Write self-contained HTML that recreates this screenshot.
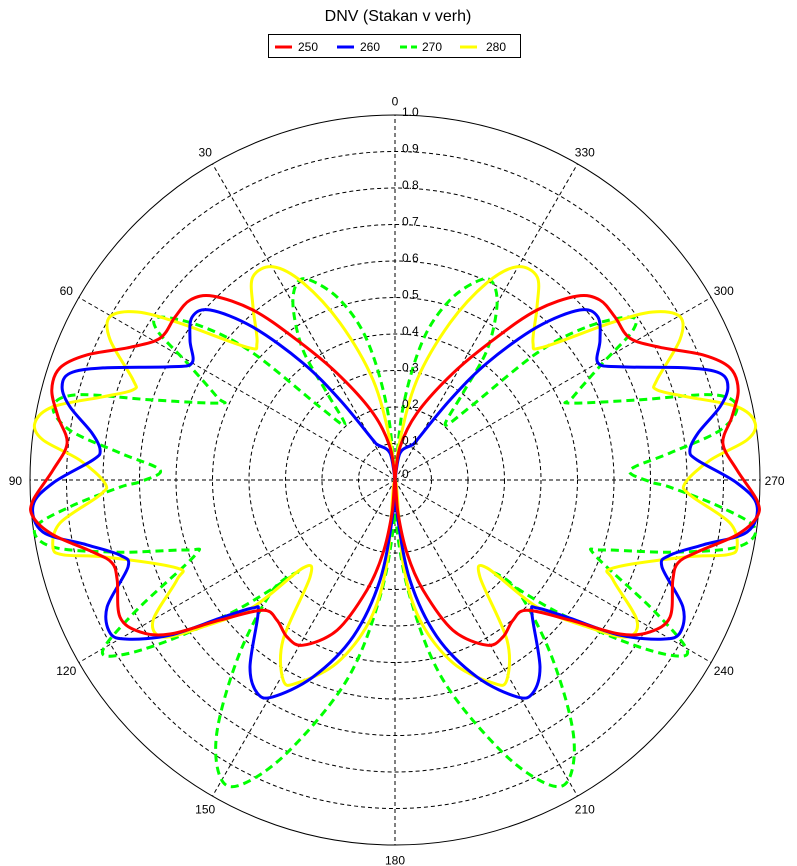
<!DOCTYPE html>
<html><head><meta charset="utf-8"><style>
html,body{margin:0;padding:0;background:#fff;}
svg{display:block;font-family:"Liberation Sans",Arial,sans-serif;}
</style></head><body>
<svg id="chart" width="797" height="866" viewBox="0 0 797 866" xmlns="http://www.w3.org/2000/svg">
<text x="398" y="21" text-anchor="middle" font-size="16">DNV (Stakan v verh)</text>
<g>
<rect x="268.5" y="34.5" width="252" height="23" fill="#fff" stroke="#000" stroke-width="1"/>
<g><line x1="275" y1="47" x2="292" y2="47" stroke="#ff0000" stroke-width="3"/><text x="298" y="51" font-size="12">250</text></g>
<g><line x1="337" y1="47" x2="354" y2="47" stroke="#0000ff" stroke-width="3"/><text x="360" y="51" font-size="12">260</text></g>
<g><line x1="400" y1="47" x2="417" y2="47" stroke="#00ff00" stroke-width="3" stroke-dasharray="7,4"/><text x="422" y="51" font-size="12">270</text></g>
<g><line x1="460" y1="47" x2="477" y2="47" stroke="#ffff00" stroke-width="3"/><text x="486" y="51" font-size="12">280</text></g>
</g>
<g id="grid"></g>
<g id="series"></g>
<g id="labels"></g>
</svg>
<script>
// Data: left-half traces (angle deg, counter-clockwise from top; radius), mirrored to right half
const radialTicks = [0, 0.1, 0.2, 0.3, 0.4, 0.5, 0.6, 0.7, 0.8, 0.9, 1.0];
const radialTickLabels = ["0","0.1","0.2","0.3","0.4","0.5","0.6","0.7","0.8","0.9","1.0"];
const angleTicks = [0,30,60,90,120,150,180,210,240,270,300,330];
const seriesNames = ["250","260","270","280"];

const red250Ang = [0,8.6,18.2,28.5,35.5,39.9,44.7,48.7,53.5,58.9,63.4,67.9,71.5,75.3,79.4,83.6,88.3,93.2,95.8,99.1,103.4,106.3,109.8,116.5,120.8,124.4,128.7,134.6,139.9,145.5,150.9,158.9,165.7,170.7,174.8,180];
const red250R   = [0,0.091,0.193,0.333,0.481,0.607,0.709,0.747,0.750,0.752,0.812,0.911,0.968,0.972,0.939,0.904,0.937,0.993,0.997,0.949,0.851,0.808,0.809,0.842,0.813,0.747,0.614,0.508,0.502,0.522,0.518,0.441,0.311,0.203,0.091,0];

const blue260Ang = [0,10.5,25.9,28.8,34.5,38.2,42.9,47.4,51.2,55.7,60.0,63.3,69.0,71.8,74.4,77.3,81.2,84.2,86.2,90.5,94.0,98.4,101.9,105.3,108.0,113.8,118.2,120.7,124.6,128.3,132.0,134.2,142.2,147.1,150.6,157.4,165.0,171.5,176.5,180];
const blue260R   = [0,0.075,0.107,0.125,0.266,0.408,0.572,0.688,0.713,0.680,0.642,0.690,0.857,0.937,0.947,0.913,0.840,0.812,0.829,0.937,0.994,0.975,0.862,0.781,0.769,0.862,0.886,0.854,0.749,0.611,0.524,0.523,0.648,0.695,0.682,0.585,0.445,0.277,0.091,0];

const green270Ang = [0,6.3,11.3,17.0,23.0,26.4,30.5,35.3,38.0,42.3,45.8,48.2,51.4,55.3,57.8,60.6,65.0,66.3,71.7,75.0,77.9,81.3,84.4,87.6,90.4,91.5,94.7,97.6,101.1,104.7,108.6,110.6,116.7,120.2,122.5,125.4,129.4,133.5,132.0,138.1,144.6,149.5,153.1,158.4,166.5,172.7,179,180];
const green270R   = [0,0.201,0.391,0.516,0.595,0.603,0.550,0.436,0.302,0.204,0.287,0.522,0.672,0.784,0.771,0.654,0.538,0.524,0.698,0.902,0.958,0.901,0.757,0.644,0.699,0.754,0.893,0.995,0.955,0.779,0.601,0.585,0.791,0.926,0.893,0.757,0.561,0.370,0.450,0.637,0.841,0.944,0.937,0.804,0.563,0.323,0.11,0];

const yellow280Ang = [0,7.1,12.4,19.3,25.0,29.8,35.0,39.4,45.2,48.1,53.9,56.9,60.2,63.8,69.1,71.0,74.1,77.9,81.0,83.5,86.4,90.6,92.9,97.3,101.1,102.7,105.0,112.0,114.6,120.1,124.1,127.4,131.8,133.7,138.8,145.0,150.8,154.2,162.4,169.9,174.5,180];
const yellow280R   = [0,0.110,0.281,0.456,0.596,0.673,0.679,0.613,0.533,0.545,0.729,0.843,0.900,0.870,0.768,0.759,0.832,0.958,0.999,0.971,0.865,0.795,0.809,0.925,0.955,0.932,0.817,0.644,0.657,0.766,0.767,0.662,0.522,0.349,0.353,0.535,0.628,0.618,0.526,0.390,0.228,0];

const CX = 395, CY = 480, R = 365;
const NS = "http://www.w3.org/2000/svg";
function px(angDeg, r){ const a = angDeg*Math.PI/180; return [CX - r*R*Math.sin(a), CY - r*R*Math.cos(a)]; }
function mk(tag, attrs, parent){ const e=document.createElementNS(NS,tag); for(const k in attrs) e.setAttribute(k,attrs[k]); parent.appendChild(e); return e; }

const grid = document.getElementById('grid');
radialTicks.forEach((t,i)=>{
  if(t===0) return;
  const c = mk('circle',{cx:CX,cy:CY,r:t*R,fill:'none',stroke:'#000','stroke-width':1,'stroke-dasharray':t===1?'none':'4,3'},grid);
  
  
});
angleTicks.forEach(a=>{
  const p = px(a,1);
  const l = mk('line',{x1:CX,y1:CY,x2:p[0],y2:p[1],stroke:'#000','stroke-width':1,'stroke-dasharray':'4,3'},grid);
  
  
});

function pathFor(angs, rs){
  const pts=[];
  for(let i=0;i<angs.length;i++) pts.push(px(angs[i], rs[i]));
  for(let i=angs.length-2;i>=1;i--) pts.push(px(360-angs[i], rs[i]));
  pts.push(pts[0]);
  let d='M'+pts[0][0].toFixed(1)+','+pts[0][1].toFixed(1);
  for(let i=0;i<pts.length-1;i++){
    const p0=pts[Math.max(0,i-1)], p1=pts[i], p2=pts[i+1], p3=pts[Math.min(pts.length-1,i+2)];
    const c1=[p1[0]+(p2[0]-p0[0])/6, p1[1]+(p2[1]-p0[1])/6];
    const c2=[p2[0]-(p3[0]-p1[0])/6, p2[1]-(p3[1]-p1[1])/6];
    d+=' C'+c1[0].toFixed(1)+','+c1[1].toFixed(1)+' '+c2[0].toFixed(1)+','+c2[1].toFixed(1)+' '+p2[0].toFixed(1)+','+p2[1].toFixed(1);
  }
  return d;
}
const sg = document.getElementById('series');
const defs = [
  [green270Ang, green270R, '#00ff00', '8,5', 'series-270'],
  [yellow280Ang, yellow280R, '#ffff00', 'none', 'series-280'],
  [blue260Ang, blue260R, '#0000ff', 'none', 'series-260'],
  [red250Ang, red250R, '#ff0000', 'none', 'series-250']
];
defs.forEach(s=>{
  const p = mk('path',{d:pathFor(s[0],s[1]),fill:'none',stroke:s[2],'stroke-width':3,'stroke-dasharray':s[3],'stroke-linejoin':'round'},sg);
  
  
});

const lg = document.getElementById('labels');
radialTicks.forEach((t,i)=>{
  if(t===0) return;
  const tx = mk('text',{x:402,y:CY - t*R + 1,'font-size':12},lg);
  tx.textContent = radialTickLabels[i];
  
  
});
const z = mk('text',{x:402,y:CY-2,'font-size':12},lg);
z.textContent = '0';


angleTicks.forEach(a=>{
  const p = px(a, 1.04);
  const tx = mk('text',{x:p[0],y:p[1]+5,'font-size':12,'text-anchor':'middle'},lg);
  tx.textContent = String(a);
  
  
});
</script>
</body></html>
